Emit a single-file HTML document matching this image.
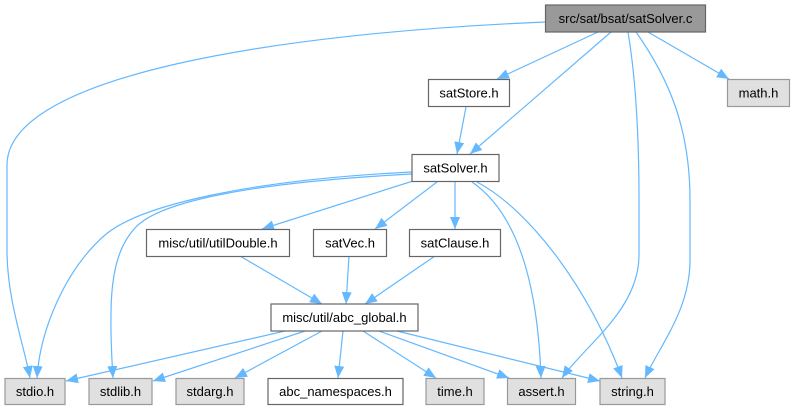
<!DOCTYPE html>
<html>
<head>
<meta charset="utf-8">
<style>
html,body{margin:0;padding:0;background:#fff;}
svg{display:block;}
text{font-family:"Liberation Sans",Arial,sans-serif;font-size:13px;fill:#000;}
.e{fill:none;stroke:#63b8ff;stroke-width:1.2;}
.w{fill:#fff;stroke:#666;stroke-width:1.2;}
.g{fill:#e0e0e0;stroke:#999;stroke-width:1.2;}
.r{fill:#999;stroke:#666;stroke-width:1.2;}
</style>
</head>
<body>
<svg width="794" height="411" viewBox="0 0 794 411" xmlns="http://www.w3.org/2000/svg">
<defs>
<marker id="a" viewBox="0 0 12 10" refX="12" refY="5" markerWidth="12" markerHeight="10" markerUnits="userSpaceOnUse" orient="auto">
<path d="M0,0 L12,5 L0,10 z" fill="#63b8ff"/>
</marker>
</defs>
<g marker-end="url(#a)">
<path class="e" d="M545,22 C280,33 7,75 7,165 L7,250 C7,300 24,345 30,378"/>
<path class="e" d="M598,32 L497,79"/>
<path class="e" d="M611,32 L470,154"/>
<path class="e" d="M628,32 C636,80 639,140 639,200 L639,255 C639,310 585,345 562,378"/>
<path class="e" d="M636,32 C670,80 690,130 690,200 L690,260 C690,310 660,345 645,378"/>
<path class="e" d="M648,32 L729,79"/>
<path class="e" d="M466,107 L457,154"/>
<path class="e" d="M412,172 C250,180 140,205 105,235 C65,270 40,330 37,378"/>
<path class="e" d="M412,174 C260,182 160,200 135,228 C110,255 108,300 113,378"/>
<path class="e" d="M413,181 L262,229"/>
<path class="e" d="M437,182 L375,229"/>
<path class="e" d="M455,182 L455,229"/>
<path class="e" d="M472,182 C520,215 538,290 541,378"/>
<path class="e" d="M477,182 C530,210 590,290 622,378"/>
<path class="e" d="M240,256 L322,304"/>
<path class="e" d="M349,256 L346,304"/>
<path class="e" d="M435,256 L365,304"/>
<path class="e" d="M285,331 L66,381"/>
<path class="e" d="M305,331 L153,381"/>
<path class="e" d="M322,331 L235,378"/>
<path class="e" d="M343,331 L338,378"/>
<path class="e" d="M363,331 L436,378"/>
<path class="e" d="M379,331 L509,378"/>
<path class="e" d="M397,331 L600,381"/>
</g>

<rect class="r" x="545.5" y="5" width="160" height="27"/>
<text x="625.5" y="23" text-anchor="middle">src/sat/bsat/satSolver.c</text>

<rect class="w" x="428.5" y="79.5" width="81" height="27"/>
<text x="469" y="97.5" text-anchor="middle">satStore.h</text>

<rect class="g" x="727.5" y="79.5" width="62" height="27"/>
<text x="758.5" y="97.5" text-anchor="middle">math.h</text>

<rect class="w" x="412" y="154.5" width="87" height="27"/>
<text x="455.5" y="172.5" text-anchor="middle">satSolver.h</text>

<rect class="w" x="146.5" y="229.5" width="143" height="27"/>
<text x="218" y="247.5" text-anchor="middle">misc/util/utilDouble.h</text>

<rect class="w" x="313.5" y="229.5" width="73" height="27"/>
<text x="350" y="247.5" text-anchor="middle">satVec.h</text>

<rect class="w" x="409.5" y="229.5" width="91" height="27"/>
<text x="455" y="247.5" text-anchor="middle">satClause.h</text>

<rect class="w" x="271" y="304" width="147" height="27"/>
<text x="344.5" y="322" text-anchor="middle">misc/util/abc_global.h</text>

<rect class="g" x="5" y="378.5" width="60" height="26"/>
<text x="35" y="396" text-anchor="middle">stdio.h</text>

<rect class="g" x="89" y="378.5" width="63" height="26"/>
<text x="120.5" y="396" text-anchor="middle">stdlib.h</text>

<rect class="g" x="176" y="378.5" width="68" height="26"/>
<text x="210" y="396" text-anchor="middle">stdarg.h</text>

<rect class="w" x="268" y="378.5" width="135" height="26"/>
<text x="335.5" y="396" text-anchor="middle">abc_namespaces.h</text>

<rect class="g" x="426" y="378.5" width="58" height="26"/>
<text x="455" y="396" text-anchor="middle">time.h</text>

<rect class="g" x="507.5" y="378.5" width="68" height="26"/>
<text x="541.5" y="396" text-anchor="middle">assert.h</text>

<rect class="g" x="600" y="378.5" width="65" height="26"/>
<text x="632.5" y="396" text-anchor="middle">string.h</text>
</svg>
</body>
</html>
